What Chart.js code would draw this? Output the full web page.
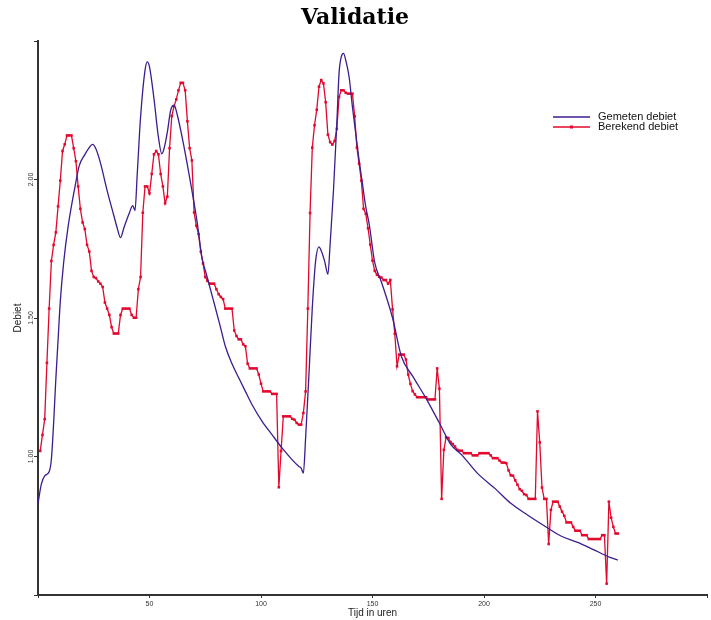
<!DOCTYPE html>
<html>
<head>
<meta charset="utf-8">
<script src="https://cdn.jsdelivr.net/npm/chart.js@4.4.1/dist/chart.umd.min.js"></script>
<style>
  body { margin: 0; background: #fff; }
  #wrap { width: 711px; height: 620px; position: relative; }
</style>
</head>
<body>
<div id="wrap"><canvas id="chart"></canvas></div>
<script>
// x ticks (hours) and y ticks (debiet)
const xTicks = [0, 50, 100, 150, 200, 250, 300];
const yTickLabels = [1.0, 1.5, 2.0];

const gemetenUren = [0, 1.5, 3, 5, 6, 7, 8, 9, 10, 11.5, 13.5, 16.5, 18.5, 21, 22.5, 24.5, 26, 28, 31, 34, 35.5, 37, 38.5, 41, 42.5, 43.5, 44.5, 46, 48, 49, 50, 52, 54, 55.5, 56.5, 58, 59.5, 61, 62.5, 65.5, 68.5, 71.5, 73.5, 75.5, 78.5, 81.5, 84, 87, 90, 93, 96, 100.5, 105, 109.5, 114, 117, 118, 119, 120, 121.5, 123, 124.5, 126, 127, 128.5, 130, 131, 132.5, 134, 135, 136, 137, 138, 139.5, 141, 142.5, 144, 145.5, 147, 148.5, 151, 154, 159, 163, 168, 174, 180, 185, 190, 197, 205, 212, 219.5, 227, 234.5, 242, 249, 256.5, 260];
const gemetenDebiet = [0.83, 0.9, 0.93, 0.945, 0.99, 1.12, 1.28, 1.42, 1.56, 1.70, 1.83, 1.97, 2.05, 2.09, 2.11, 2.127, 2.11, 2.06, 1.96, 1.87, 1.825, 1.79, 1.825, 1.88, 1.906, 1.888, 2.02, 2.226, 2.395, 2.425, 2.407, 2.292, 2.153, 2.093, 2.111, 2.171, 2.25, 2.268, 2.232, 2.117, 1.984, 1.839, 1.718, 1.658, 1.568, 1.477, 1.398, 1.335, 1.284, 1.235, 1.187, 1.127, 1.078, 1.03, 0.988, 0.964, 0.958, 0.94, 1.066, 1.296, 1.537, 1.706, 1.757, 1.743, 1.706, 1.658, 1.767, 1.96, 2.202, 2.383, 2.443, 2.455, 2.431, 2.371, 2.262, 2.165, 2.069, 1.984, 1.9, 1.84, 1.70, 1.63, 1.50, 1.36, 1.29, 1.21, 1.121, 1.045, 1.006, 0.94, 0.884, 0.831, 0.789, 0.75, 0.713, 0.69, 0.664, 0.636, 0.626];

// Berekend debiet (calculated), one value per hour starting at hour 1
const berekendStart = 1;
const berekendDebiet = [
  1.02, 1.078, 1.135, 1.338, 1.534, 1.706, 1.764, 1.809, 1.903, 1.996,
  2.103, 2.127, 2.159, 2.159, 2.159, 2.113, 2.066, 1.975, 1.894, 1.845,
  1.821, 1.764, 1.740, 1.670, 1.648, 1.644, 1.632, 1.624, 1.612, 1.556,
  1.534, 1.511, 1.467, 1.444, 1.444, 1.444, 1.511, 1.534, 1.534, 1.534,
  1.534, 1.511, 1.501, 1.501, 1.604, 1.648, 1.880, 1.975, 1.975, 1.950,
  2.020, 2.091, 2.103, 2.091, 2.020, 1.975, 1.914, 1.938, 2.113, 2.229,
  2.264, 2.289, 2.322, 2.349, 2.349, 2.322, 2.210, 2.113, 2.069, 1.881,
  1.833, 1.803, 1.740, 1.697, 1.648, 1.634, 1.624, 1.624, 1.624, 1.604,
  1.586, 1.576, 1.568, 1.534, 1.534, 1.534, 1.534, 1.455, 1.435, 1.423,
  1.423, 1.405, 1.398, 1.335, 1.318, 1.318, 1.318, 1.318, 1.296, 1.263,
  1.235, 1.235, 1.235, 1.235, 1.226, 1.226, 1.226, 0.889, 1.020, 1.145,
  1.145, 1.145, 1.145, 1.136, 1.133, 1.121, 1.115, 1.115, 1.157, 1.235,
  1.534, 1.879, 2.115, 2.196, 2.252, 2.335, 2.359, 2.347, 2.279, 2.162,
  2.135, 2.126, 2.139, 2.183, 2.298, 2.322, 2.322, 2.313, 2.310, 2.310,
  2.310, 2.228, 2.115, 2.057, 1.996, 1.894, 1.876, 1.824, 1.765, 1.707,
  1.670, 1.656, 1.649, 1.646, 1.637, 1.637, 1.624, 1.637, 1.531, 1.443,
  1.326, 1.368, 1.368, 1.368, 1.350, 1.296, 1.262, 1.236, 1.224, 1.214,
  1.214, 1.214, 1.214, 1.214, 1.206, 1.206, 1.206, 1.206, 1.318, 1.245,
  0.847, 1.024, 1.069, 1.067, 1.052, 1.045, 1.036, 1.024, 1.021, 1.021,
  1.012, 1.012, 1.012, 1.012, 1.004, 1.004, 1.004, 1.012, 1.012, 1.012,
  1.012, 1.012, 1.004, 0.994, 0.994, 0.994, 0.985, 0.978, 0.978, 0.976,
  0.950, 0.932, 0.931, 0.914, 0.898, 0.882, 0.876, 0.864, 0.861, 0.847,
  0.847, 0.847, 0.847, 1.163, 1.051, 0.888, 0.847, 0.847, 0.684, 0.807,
  0.837, 0.837, 0.837, 0.819, 0.801, 0.786, 0.762, 0.762, 0.762, 0.746,
  0.732, 0.732, 0.732, 0.716, 0.716, 0.716, 0.702, 0.702, 0.702, 0.702,
  0.702, 0.702, 0.716, 0.716, 0.541, 0.837, 0.779, 0.746, 0.722, 0.722
];

const BLUE = '#3b1d8f';
const RED = '#e3082d';
const FONT = "'Liberation Sans', Arial, sans-serif";

const gemetenData = gemetenUren.map((h, i) => ({ x: h, y: gemetenDebiet[i] }));
const berekendData = berekendDebiet.map((v, i) => ({ x: berekendStart + i, y: v }));

// rotated y tick labels + legend box in the top right
const extras = {
  id: 'extras',
  afterDraw(chart) {
    const ctx = chart.ctx;
    const y = chart.scales.y;
    ctx.save();
    ctx.fillStyle = '#333';
    ctx.font = '7px ' + FONT;
    ctx.textAlign = 'center';
    ctx.textBaseline = 'middle';
    yTickLabels.forEach(v => {
      ctx.save();
      ctx.translate(31, y.getPixelForValue(v));
      ctx.rotate(-Math.PI / 2);
      ctx.fillText(v.toFixed(2), 0, 0);
      ctx.restore();
    });

    // legend
    const ds = chart.data.datasets;
    const lx = 553, ly = 117;
    ctx.font = '11px ' + FONT;
    ctx.textAlign = 'left';
    ds.forEach((d, i) => {
      const yy = ly + i * 10;
      ctx.strokeStyle = d.borderColor;
      ctx.lineWidth = 1.3;
      ctx.beginPath();
      ctx.moveTo(lx, yy);
      ctx.lineTo(lx + 37, yy);
      ctx.stroke();
      if (d.pointRadius > 0) {
        ctx.fillStyle = d.borderColor;
        ctx.fillRect(lx + 17, yy - 1.5, 3, 3);
      }
      ctx.fillStyle = '#111';
      ctx.fillText(d.label, lx + 45, yy);
    });
    ctx.restore();
  }
};

new Chart(document.getElementById('chart'), {
  type: 'line',
  data: {
    datasets: [
      {
        label: 'Gemeten debiet',
        data: gemetenData,
        borderColor: BLUE,
        backgroundColor: BLUE,
        borderWidth: 1.3,
        pointRadius: 0,
        cubicInterpolationMode: 'monotone',
        fill: false
      },
      {
        label: 'Berekend debiet',
        data: berekendData,
        borderColor: RED,
        backgroundColor: RED,
        borderWidth: 1.3,
        pointRadius: 1.8,
        pointStyle: 'rect',
        pointBorderWidth: 0,
        tension: 0,
        fill: false
      }
    ]
  },
  options: {
    responsive: true,
    maintainAspectRatio: false,
    animation: false,
    layout: { padding: { right: 1 } },
    plugins: {
      legend: { display: false },
      tooltip: { enabled: false },
      title: {
        display: true,
        text: 'Validatie',
        color: '#000',
        font: { family: "'DejaVu Serif', serif", size: 22, weight: 'bold', lineHeight: 1.2 },
        padding: { top: 5, bottom: 9.6 }
      }
    },
    scales: {
      x: {
        type: 'linear',
        min: 0,
        max: 300,
        afterBuildTicks: s => { s.ticks = xTicks.map(v => ({ value: v })); },
        afterFit: s => { s.height = 25; },
        border: { display: true, color: '#333', width: 2 },
        grid: { display: true, drawOnChartArea: false, drawTicks: true, tickLength: 3, color: '#333' },
        ticks: {
          color: '#333',
          font: { family: FONT, size: 7 },
          padding: 2,
          maxRotation: 0,
          callback: v => (v === 0 || v === 300) ? '' : v
        },
        title: {
          display: true,
          text: 'Tijd in uren',
          color: '#222',
          font: { family: FONT, size: 10 },
          padding: { top: 0, bottom: 1 }
        }
      },
      y: {
        min: 0.5,
        max: 2.5,
        ticks: { stepSize: 0.5, display: false },
        afterFit: s => { s.width = 38; },
        border: { display: true, color: '#333', width: 2 },
        grid: { display: true, drawOnChartArea: false, drawTicks: true, tickLength: 4, color: '#333' },
        title: {
          display: true,
          text: 'Debiet',
          color: '#222',
          font: { family: FONT, size: 10 },
          padding: { top: 12, bottom: 0 }
        }
      }
    }
  },
  plugins: [extras]
});
</script>
</body>
</html>
